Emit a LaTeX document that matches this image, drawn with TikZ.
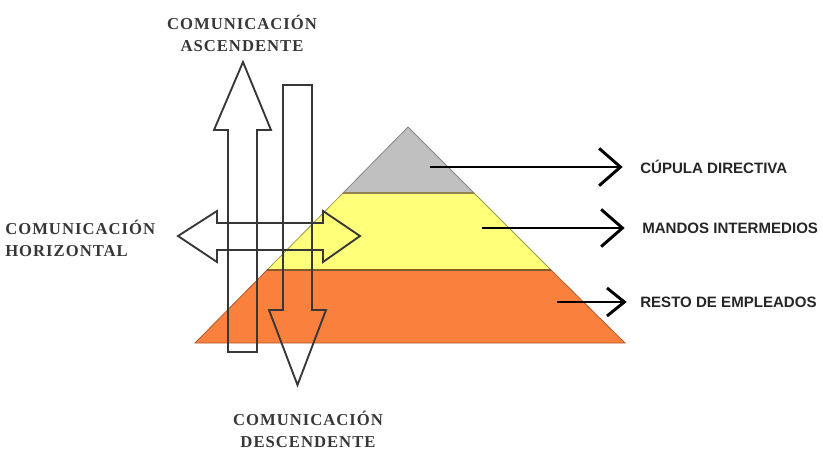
\documentclass[tikz,border=0pt]{standalone}
\usepackage{fontspec}
\setmainfont{Liberation Serif}
\setsansfont{Liberation Sans}
\usetikzlibrary{arrows.meta,positioning}
\definecolor{gris}{RGB}{192,192,192}
\definecolor{amarillo}{RGB}{255,255,122}
\definecolor{naranja}{RGB}{250,128,62}
\definecolor{tinta}{RGB}{55,55,55}

\begin{document}
\begin{tikzpicture}[x=0.75pt,y=-0.75pt,
  comu/.style={font=\bfseries\fontsize{12.5}{16.5}\selectfont\addfontfeature{LetterSpace=6},text=tinta,align=center,inner sep=0pt},
  nivel/.style={font=\sffamily\bfseries\fontsize{11.3}{12}\selectfont,text=black!85,anchor=west,inner sep=0pt},
  bloque/.style={draw=tinta,line width=1.4pt,line join=miter},
  flecha/.style={-{Straight Barb[length=16pt,width=28pt]},line width=2.2pt,shorten >=13pt}
]
\useasboundingbox (0,0) rectangle (823,450);

% piramide
\filldraw[fill=gris,draw=gris!70!black,line width=0.6pt] (408,127) -- (474,193) -- (343,193) -- cycle;
\filldraw[fill=amarillo,draw=amarillo!60!black,line width=0.6pt] (343,193) -- (474,193) -- (551,270) -- (267,270) -- cycle;
\filldraw[fill=naranja,draw=naranja!70!black,line width=0.6pt] (267,270) -- (551,270) -- (625,343) -- (195,343) -- cycle;
\draw[line width=1.2pt,draw=black!60!yellow!70!brown] (343,193) -- (474,193);
\draw[line width=1.2pt,draw=brown!70!black] (267,270) -- (551,270);

% flechas de comunicacion
\draw[bloque] (243,62) -- (271,130) -- (257,130) -- (257,352) -- (228,352) -- (228,130) -- (214,130) -- cycle;
\draw[bloque] (283,85) -- (312,85) -- (312,310) -- (326,310) -- (297.5,385) -- (269,310) -- (283,310) -- cycle;
\draw[bloque] (178,236) -- (217,211) -- (217,223) -- (323,223) -- (323,211) -- (360,236)
  -- (323,262) -- (323,250) -- (217,250) -- (217,262) -- cycle;

\node[comu] (ascendente) at (242,33) {COMUNICACIÓN\\ASCENDENTE};
\node[comu,align=left,anchor=west] (horizontal) at (5,238) {COMUNICACIÓN\\HORIZONTAL};
\node[comu] (descendente) at (308,429) {COMUNICACIÓN\\DESCENDENTE};

% niveles
\node[nivel] (cupula) at (640,167) {CÚPULA DIRECTIVA};
\node[nivel] (mandos) at (642,228) {MANDOS INTERMEDIOS};
\node[nivel] (resto) at (640,302) {RESTO DE EMPLEADOS};
\coordinate (pc) at (430,167);
\coordinate (pm) at (482,228);
\coordinate (pr) at (557,302);

\draw[flecha] (pc) -- (cupula.west);
\draw[flecha] (pm) -- (mandos.west);
\draw[flecha,-{Straight Barb[length=13pt,width=21pt]},shorten >=10pt] (pr) -- (resto.west);
\end{tikzpicture}
\end{document}
